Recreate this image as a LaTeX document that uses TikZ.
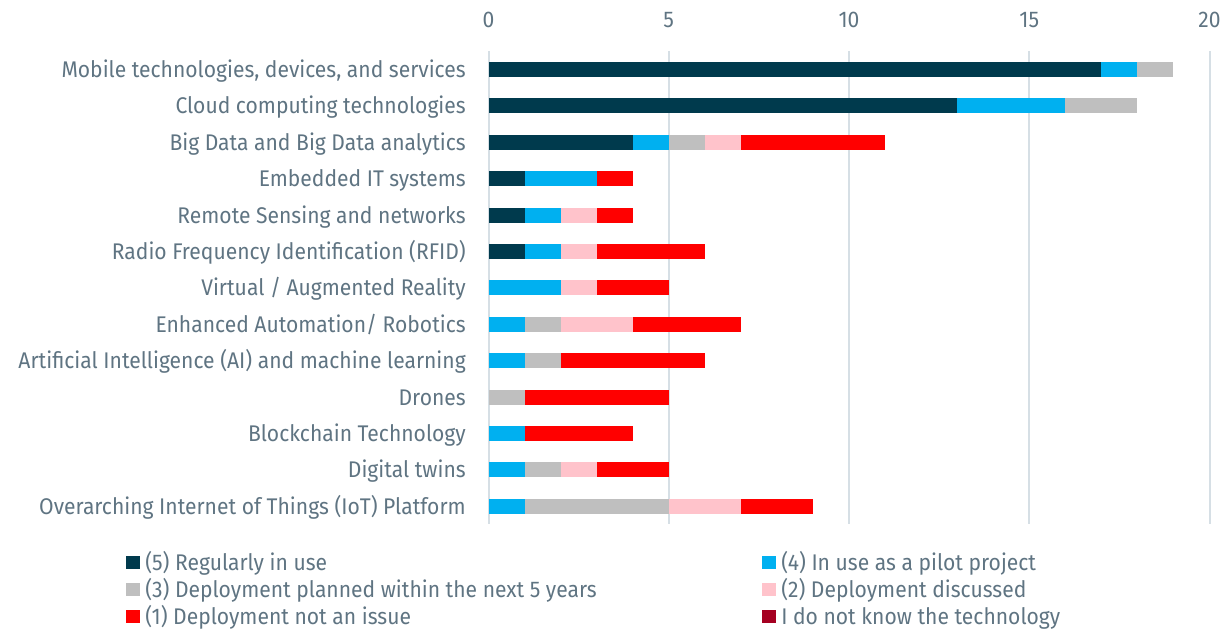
\documentclass[tikz,border=0pt]{standalone}
\usepackage{fontspec}
\setmainfont{Fira Sans}[FakeStretch=0.93]
\usepackage{tikz}

\definecolor{lvlfive}{HTML}{003A4D}
\definecolor{lvlfour}{HTML}{00B0F0}
\definecolor{lvlthree}{HTML}{BFBFBF}
\definecolor{lvltwo}{HTML}{FFC3CB}
\definecolor{lvlone}{HTML}{FF0000}
\definecolor{lvlnone}{HTML}{A50021}
\definecolor{txtgray}{HTML}{5F7482}
\definecolor{gridgray}{HTML}{D6DFE5}

\begin{document}
\begin{tikzpicture}[x=0.75pt,y=-0.75pt]
      \tikzstyle{label}=[inner sep=0pt,text=txtgray,font=\fontsize{17}{20}\selectfont]
      \tikzstyle{grid}=[draw=gridgray,line width=1.5pt]
      \useasboundingbox (0,0) rectangle (1223,628);
      % value axis: 1 unit = 36.05px, zero at x=488.5
      \foreach \v in {0,5,...,20} {
        \draw[grid] (488.5+36.05*\v,51) -- (488.5+36.05*\v,524);
        \node[label] (tick\v) at (488.5+36.05*\v,20) {\v};
      }
      % bars
      \foreach \r/\lab/\segs in {
          0/{Mobile technologies, devices, and services}/{lvlfive/0/17,lvlfour/17/18,lvlthree/18/19},
          1/{Cloud computing technologies}/{lvlfive/0/13,lvlfour/13/16,lvlthree/16/18},
          2/{Big Data and Big Data analytics}/{lvlfive/0/4,lvlfour/4/5,lvlthree/5/6,lvltwo/6/7,lvlone/7/11},
          3/{Embedded IT systems}/{lvlfive/0/1,lvlfour/1/3,lvlone/3/4},
          4/{Remote Sensing and networks}/{lvlfive/0/1,lvlfour/1/2,lvltwo/2/3,lvlone/3/4},
          5/{Radio Frequency Identification (RFID)}/{lvlfive/0/1,lvlfour/1/2,lvltwo/2/3,lvlone/3/6},
          6/{Virtual / Augmented Reality}/{lvlfour/0/2,lvltwo/2/3,lvlone/3/5},
          7/{Enhanced Automation/ Robotics}/{lvlfour/0/1,lvlthree/1/2,lvltwo/2/4,lvlone/4/7},
          8/{Artificial Intelligence (AI) and machine learning}/{lvlfour/0/1,lvlthree/1/2,lvlone/2/6},
          9/{Drones}/{lvlthree/0/1,lvlone/1/5},
          10/{Blockchain Technology}/{lvlfour/0/1,lvlone/1/4},
          11/{Digital twins}/{lvlfour/0/1,lvlthree/1/2,lvltwo/2/3,lvlone/3/5},
          12/{Overarching Internet of Things (IoT) Platform}/{lvlfour/0/1,lvlthree/1/5,lvltwo/5/7,lvlone/7/9}} {
        \pgfmathsetmacro\yc{69.5+36.4*\r}
        \node[label,anchor=base east] (row\r) at (466,\yc+8) {\lab};
        \foreach \c/\a/\b in \segs
          \fill[\c] (488.5+36.05*\a,\yc-7.5) rectangle (488.5+36.05*\b,\yc+7.5);
      }
      % legend
      \foreach \i/\c/\t/\px/\py in {
          1/lvlfive/{(5) Regularly in use}/126/562.5,
          2/lvlfour/{(4) In use as a pilot project}/762/562.5,
          3/lvlthree/{(3) Deployment planned within the next 5 years}/126/589.5,
          4/lvltwo/{(2) Deployment discussed}/762/589.5,
          5/lvlone/{(1) Deployment not an issue}/126/616,
          6/lvlnone/{I do not know the technology}/762/616} {
        \fill[\c] (\px,\py-6.5) rectangle (\px+14,\py+6.5);
        \node[label,anchor=base west] (leg\i) at (\px+19,\py+8) {\t};
      }
    \end{tikzpicture}
\end{document}
